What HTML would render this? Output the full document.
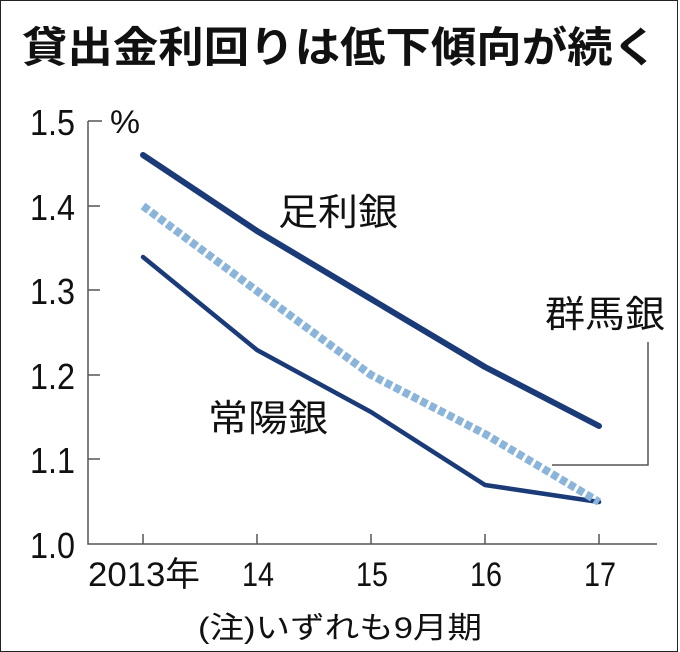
<!DOCTYPE html>
<html><head><meta charset="utf-8"><style>
body{margin:0;background:#fff}
svg{display:block}
text{font-family:"Liberation Sans","Noto Sans CJK JP",sans-serif;fill:#111}
</style></head><body>
<svg width="680" height="652" viewBox="0 0 680 652">
<rect x="0.5" y="0.5" width="677" height="651" fill="#fff" stroke="#222" stroke-width="1"/>
<text x="22" y="62" font-size="42" font-weight="bold" textLength="636" lengthAdjust="spacingAndGlyphs">貸出金利回りは低下傾向が続く</text>
<g stroke="#555" stroke-width="1.5" fill="none">
<path d="M88 121V544H657"/>
<path d="M88 121H102M88 206H100M88 290H100M88 375H100M88 459H100"/>
<path d="M143 544V534M257 544V534M371 544V534M485 544V534M599 544V534"/>
<path d="M648 342V465H552"/>
</g>
<g font-size="36">
<text x="30" y="135" textLength="45" lengthAdjust="spacingAndGlyphs">1.5</text>
<text x="30" y="220" textLength="45" lengthAdjust="spacingAndGlyphs">1.4</text>
<text x="30" y="304" textLength="45" lengthAdjust="spacingAndGlyphs">1.3</text>
<text x="30" y="389" textLength="45" lengthAdjust="spacingAndGlyphs">1.2</text>
<text x="30" y="473" textLength="45" lengthAdjust="spacingAndGlyphs">1.1</text>
<text x="30" y="558" textLength="45" lengthAdjust="spacingAndGlyphs">1.0</text>
</g>
<text x="110" y="133" font-size="32" textLength="30" lengthAdjust="spacingAndGlyphs">%</text>
<g font-size="34">
<text x="88" y="586" textLength="112" lengthAdjust="spacingAndGlyphs">2013年</text>
<text x="242" y="586" textLength="32" lengthAdjust="spacingAndGlyphs">14</text>
<text x="356" y="586" textLength="32" lengthAdjust="spacingAndGlyphs">15</text>
<text x="470" y="586" textLength="32" lengthAdjust="spacingAndGlyphs">16</text>
<text x="584" y="586" textLength="32" lengthAdjust="spacingAndGlyphs">17</text>
</g>
<text x="198" y="638" font-size="30" textLength="284" lengthAdjust="spacingAndGlyphs">(注)いずれも9月期</text>
<g fill="none" stroke-linecap="round" stroke-linejoin="round">
<polyline points="143,155 257,231 371,299 485,367 599,426" stroke="#1a3a78" stroke-width="6"/>
<polyline points="143,257 257,350 371,412 485,485 599,502" stroke="#1a3a78" stroke-width="4.5"/>
<polyline points="143,206 257,291 371,375 485,434 599,502" stroke="#8ab4da" stroke-width="8" stroke-dasharray="7 3" stroke-linecap="butt"/>
</g>
<g font-size="37">
<text x="278" y="225" textLength="120" lengthAdjust="spacingAndGlyphs">足利銀</text>
<text x="545" y="327" textLength="120" lengthAdjust="spacingAndGlyphs">群馬銀</text>
<text x="208" y="431" textLength="120" lengthAdjust="spacingAndGlyphs">常陽銀</text>
</g>
</svg>
</body></html>
